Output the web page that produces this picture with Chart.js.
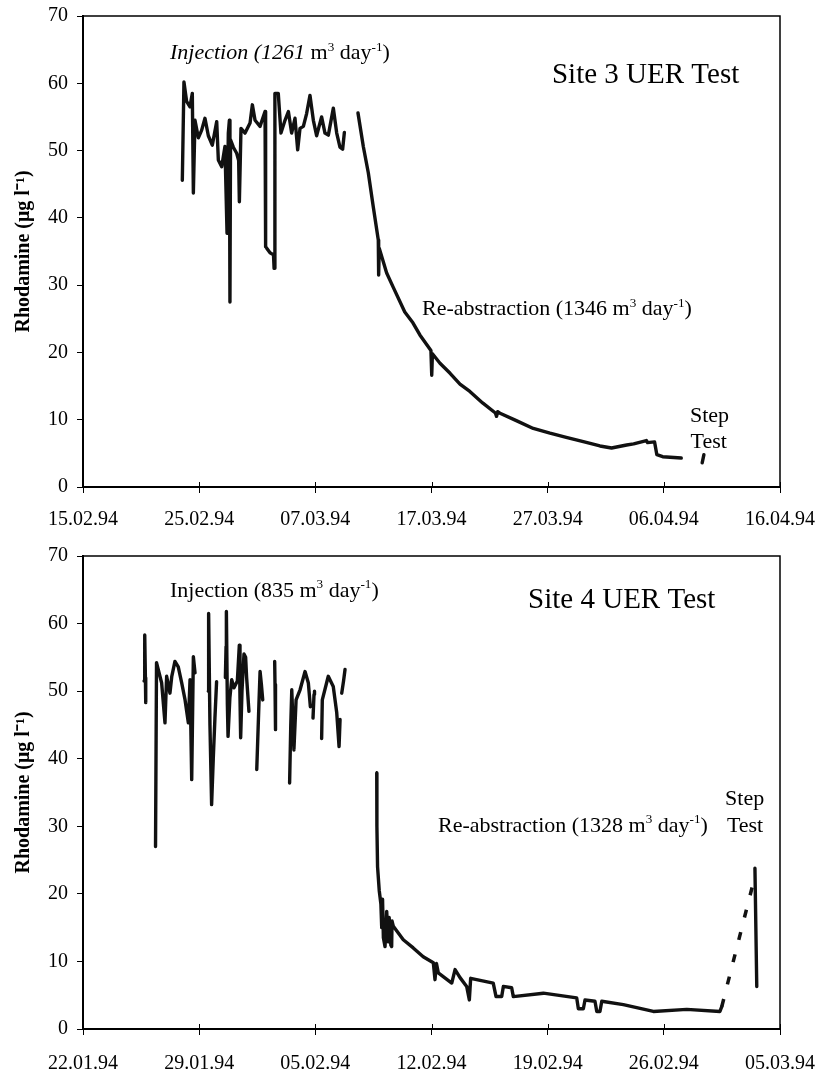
<!DOCTYPE html>
<html><head><meta charset="utf-8">
<script src="https://cdn.jsdelivr.net/npm/chart.js@4.4.1/dist/chart.umd.min.js"></script>
<style>
html,body{margin:0;padding:0;background:#fff;}
#w1{position:absolute;left:0;top:0;width:818px;height:535px;}
#w2{position:absolute;left:0;top:535px;width:818px;height:534px;}
</style></head><body>
<div id="w1"><canvas id="c1"></canvas></div>
<div id="w2"><canvas id="c2"></canvas></div>
<script>
// ---------- Site 3 (x = days after 15.02.94) ----------
const s3TickLabels = ['15.02.94','25.02.94','07.03.94','17.03.94','27.03.94','06.04.94','16.04.94'];
const s3InjDays = [8.55,8.69,8.92,9.21,9.41,9.50,9.64,9.93,10.21,10.50,10.79,11.13,11.51,11.65,11.94,12.22,12.40,12.51,12.60,12.65,12.70,12.94,13.23,13.40,13.46,13.60,13.95,14.38,14.58,14.81,15.24,15.67,15.72,16.10,16.40,16.45,16.52,16.81,17.04,17.39,17.68,17.96,18.25,18.48,18.68,18.97,19.25,19.54,19.83,20.11,20.54,20.83,21.12,21.55,21.84,22.12,22.35,22.50];
const s3InjVals = [45.6,60.2,57.3,56.5,58.5,43.7,54.5,51.9,53.0,54.8,52.2,50.8,54.3,48.6,47.6,50.6,37.7,52.6,54.5,27.5,51.6,50.5,49.6,48.5,42.4,53.3,52.6,54.1,56.8,54.5,53.6,55.8,35.7,34.8,34.5,32.5,58.5,58.5,52.6,54.5,55.8,52.6,54.8,50.1,53.3,53.6,55.5,58.2,54.5,52.2,55.0,52.6,52.3,56.3,52.6,50.5,50.2,52.7];
const s3ReDays = [23.67,24.13,24.56,24.99,25.42,25.45,25.50,26.14,26.70,27.70,28.40,29.00,29.95,30.02,30.08,30.73,31.60,32.45,33.30,34.40,35.50,35.60,35.70,35.90,37.30,38.76,40.20,41.60,43.07,44.50,45.50,46.80,47.40,48.50,48.60,49.20,49.40,49.90,51.50];
const s3ReVals = [55.6,50.6,46.7,41.6,36.7,31.5,35.5,31.8,29.7,26.0,24.4,22.6,20.3,16.6,19.8,18.4,16.9,15.3,14.2,12.5,11.0,10.5,11.2,10.95,9.86,8.7,8.0,7.38,6.73,6.1,5.8,6.24,6.4,6.9,6.6,6.7,4.8,4.5,4.3];
const s3StepDays = [53.45,53.30];
const s3StepVals = [4.8,3.6];

// ---------- Site 4 (x = days after 22.01.94) ----------
const s4TickLabels = ['22.01.94','29.01.94','05.02.94','12.02.94','19.02.94','26.02.94','05.03.94'];
const s4InjDays = [3.68,3.72,3.76,3.78,null,
  4.37,4.43,4.74,4.94,5.04,5.24,5.35,5.54,5.74,5.95,6.15,6.35,6.45,6.55,6.65,6.75,null,
  7.55,7.57,7.65,7.75,7.85,7.95,8.05,null,
  8.58,8.62,8.64,8.70,8.74,8.85,8.96,9.10,9.30,9.42,9.46,9.50,9.58,9.70,9.80,9.86,10.00,null,
  10.47,10.60,10.67,10.75,10.83,null,
  11.55,11.57,11.60,null,
  12.45,12.52,12.58,12.71,12.84,13.08,13.38,13.58,13.70,null,
  13.86,13.92,13.95,null,
  14.38,14.42,14.78,15.08,15.29,15.43,15.49,null,
  15.59,15.70,15.79];
const s4InjVals = [51.5,58.3,52.0,48.3,null,
  27.0,54.2,51.2,45.3,52.2,49.7,52.2,54.4,53.6,51.2,48.7,45.3,51.7,36.9,55.1,52.7,null,
  50.0,61.5,45.0,33.2,40.0,46.0,51.4,null,
  52.0,56.6,61.8,48.0,43.3,49.0,51.7,50.5,51.5,56.8,49.0,43.1,50.0,55.5,55.0,52.0,47.0,null,
  38.4,48.0,52.9,51.0,48.7,null,
  54.4,51.0,44.3,null,
  36.4,45.0,50.2,41.3,48.7,50.2,52.9,51.2,47.7,null,
  46.0,49.5,50.0,null,
  43.0,48.7,52.2,50.7,46.8,41.8,45.8,null,
  49.7,51.5,53.2];
const s4ReDays = [17.70,17.71,17.75,17.85,17.95,18.00,18.05,18.10,18.20,18.30,18.40,18.45,18.55,18.60,18.62,18.70,19.30,19.90,20.50,21.11,21.21,21.30,21.41,22.22,22.42,22.72,23.12,23.28,23.36,24.72,24.89,25.23,25.33,25.83,25.93,27.74,29.75,29.85,30.15,30.25,30.85,30.96,31.15,31.26,32.56,34.37,36.38,38.38,38.49];
const s4ReVals = [37.9,30.0,24.0,20.5,18.5,15.0,19.2,13.5,12.2,17.4,12.9,16.5,12.4,12.2,16.0,15.2,13.2,12.0,10.7,9.8,7.3,9.7,8.3,6.8,8.8,7.6,6.3,4.3,7.5,6.8,4.8,4.8,6.3,6.1,4.8,5.3,4.6,3.0,3.0,4.3,4.1,2.6,2.6,4.1,3.6,2.6,2.9,2.6,3.3];
const s4DotDays = [38.49,40.49];
const s4DotVals = [3.3,22.6];
const s4StepDays = [40.49,40.60];
const s4StepVals = [23.8,6.3];

const yTitle = 'Rhodamine (\u03bcg l\u207b\u00b9)';
const SERIF = '"Liberation Serif", "Times New Roman", serif';

function pts(days, vals) {
  const out = []; let last = 0;
  days.forEach((d, i) => {
    if (d === null || vals[i] === null) out.push({x: last, y: null});
    else { out.push({x: d, y: vals[i]}); last = d; }
  });
  return out;
}
function ds(days, vals, extra) {
  return Object.assign({data: pts(days, vals), borderColor: '#111', borderWidth: 3.4,
    pointRadius: 0, spanGaps: false, tension: 0, borderJoinStyle: 'round', borderCapStyle: 'round'}, extra || {});
}

const annotPlugin = {
  id: 'annot',
  afterDraw(chart, args, opts) {
    const {ctx, chartArea: a, scales: {x, y}} = chart;
    ctx.save();
    ctx.strokeStyle = '#000';
    ctx.lineWidth = 1.5;
    ctx.beginPath(); ctx.moveTo(a.left, a.top); ctx.lineTo(a.right, a.top); ctx.lineTo(a.right, a.bottom); ctx.stroke();
    ctx.lineWidth = 1;
    x.ticks.forEach(t => {
      const px = Math.round(x.getPixelForValue(t.value)) + 0.5;
      ctx.beginPath(); ctx.moveTo(px, a.bottom); ctx.lineTo(px, a.bottom - 5); ctx.stroke();
    });
    ctx.fillStyle = '#000'; ctx.textBaseline = 'alphabetic'; ctx.textAlign = 'left';
    (opts.items || []).forEach(it => {
      let px = x.getPixelForValue(it.day);
      const py = y.getPixelForValue(it.val);
      it.parts.forEach(p => {
        const sz = p.sup ? it.size * 0.6 : it.size;
        ctx.font = (p.it ? 'italic ' : '') + sz + 'px ' + SERIF;
        ctx.fillText(p.t, px, p.sup ? py - it.size * 0.38 : py);
        px += ctx.measureText(p.t).width;
      });
    });
    ctx.restore();
  }
};

function rate(prefix, italicPrefix) {
  return [{t: prefix, it: italicPrefix}, {t: 'm'}, {t: '3', sup: true}, {t: ' day'}, {t: '-1', sup: true}, {t: ')'}];
}

function makeChart(id, c) {
  return new Chart(document.getElementById(id), {
    type: 'line',
    data: {datasets: c.datasets},
    options: {
      responsive: true, maintainAspectRatio: false, animation: false,
      layout: {padding: {left: 0, right: 38, top: c.padTop, bottom: 0}},
      plugins: {legend: {display: false}, tooltip: {enabled: false}, annot: {items: c.items}},
      scales: {
        x: {
          type: 'linear', min: 0, max: c.step * (c.labels.length - 1),
          afterBuildTicks: s => { s.ticks = c.labels.map((_, i) => ({value: i * c.step})); },
          ticks: {callback: (v) => c.labels[Math.round(v / c.step)], color: '#000', maxRotation: 0, autoSkip: false,
                  padding: c.xPad, font: {family: SERIF, size: 20}},
          grid: {display: true, drawOnChartArea: false, drawTicks: true, tickLength: 6, color: '#000', lineWidth: 1},
          border: {display: true, color: '#000', width: 2},
          afterFit: s => { s.height = c.xH; s.paddingLeft = 0; s.paddingRight = 0; }
        },
        y: {
          min: 0, max: 70,
          ticks: {stepSize: 10, color: '#000', padding: 9, font: {family: SERIF, size: 20}},
          grid: {display: true, drawOnChartArea: false, drawTicks: true, tickLength: 6, color: '#000', lineWidth: 1},
          border: {display: true, color: '#000', width: 2},
          title: {display: true, text: yTitle, color: '#000', padding: {top: 12, bottom: 0},
                  font: {family: SERIF, size: 20, weight: 'bold'}},
          afterFit: s => { s.width = 83; s.paddingTop = 0; s.paddingBottom = 0; }
        }
      }
    },
    plugins: [annotPlugin]
  });
}

makeChart('c1', {
  labels: s3TickLabels, step: 10, padTop: 16, xH: 48, xPad: 15,
  datasets: [ds(s3InjDays, s3InjVals), ds(s3ReDays, s3ReVals), ds(s3StepDays, s3StepVals)],
  items: [
    {day: 7.49, val: 63.6, size: 22, parts: rate('Injection (1261 ', true)},
    {day: 40.37, val: 60.0, size: 29, parts: [{t: 'Site 3 UER Test'}]},
    {day: 29.18, val: 25.5, size: 22, parts: rate('Re-abstraction (1346 ', false)},
    {day: 52.25, val: 9.7, size: 22, parts: [{t: 'Step'}]},
    {day: 52.3, val: 5.8, size: 22, parts: [{t: 'Test'}]}
  ]
});

makeChart('c2', {
  labels: s4TickLabels, step: 7, padTop: 21, xH: 40, xPad: 17,
  datasets: [ds(s4InjDays, s4InjVals), ds(s4ReDays, s4ReVals),
             ds(s4DotDays, s4DotVals, {borderDash: [8, 15], borderWidth: 3.5, borderCapStyle: 'butt'}),
             ds(s4StepDays, s4StepVals)],
  items: [
    {day: 5.24, val: 64.0, size: 22, parts: rate('Injection (835 ', false)},
    {day: 26.82, val: 62.3, size: 29, parts: [{t: 'Site 4 UER Test'}]},
    {day: 21.39, val: 29.2, size: 22, parts: rate('Re-abstraction (1328 ', false)},
    {day: 38.69, val: 33.2, size: 22, parts: [{t: 'Step'}]},
    {day: 38.8, val: 29.2, size: 22, parts: [{t: 'Test'}]}
  ]
});
</script>
</body></html>
